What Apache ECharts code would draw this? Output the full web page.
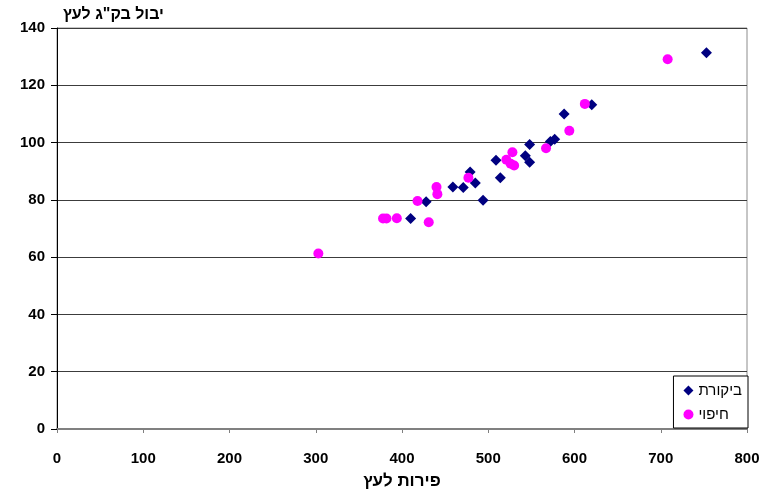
<!DOCTYPE html>
<html><head><meta charset="utf-8">
<script src="https://cdn.jsdelivr.net/npm/echarts@6/dist/echarts.min.js"></script>
<style>html,body{margin:0;padding:0;background:#fff}#c{width:766px;height:495px}</style>
</head><body><div id="c"></div>
<script>
const seriesNames = ['ביקורת', 'חיפוי'];
const controlX = [410, 428, 459, 471, 479, 485, 494, 509, 514, 543, 548, 548, 572, 577, 588, 620, 753];
const controlY = [73.5, 79.3, 84.5, 84.3, 89.7, 85.9, 79.9, 93.8, 87.7, 95.4, 99.3, 93.1, 100.4, 101.2, 110, 113.2, 131.4];
const mulchX = [303, 378, 382, 394, 418, 431, 440, 441, 477, 521, 526, 528, 530, 567, 594, 612, 708];
const mulchY = [61.3, 73.5, 73.5, 73.6, 79.6, 72.2, 84.5, 82, 87.7, 94, 92.6, 96.6, 92, 98, 104.1, 113.5, 129.1];
const xTitle = 'פירות לעץ';
const yTitle = 'יבול בק"ג לעץ';

const zip = (a, b) => a.map((v, i) => [v, b[i]]);
const font = 'Arial, "Liberation Sans", sans-serif';
const chart = echarts.init(document.getElementById('c'), null, {renderer: 'canvas'});
chart.setOption({
  animation: false,
  backgroundColor: '#fff',
  grid: {left: 57, right: 19, top: 28, bottom: 65, show: true, borderColor: '#8c8c8c', borderWidth: 1},
  xAxis: {
    type: 'value', min: 0, max: 800, interval: 100,
    name: xTitle, nameLocation: 'middle', nameGap: 44,
    nameTextStyle: {fontFamily: font, fontWeight: 'bold', fontSize: 17, color: '#000'},
    axisLine: {show: true, lineStyle: {color: '#808080', width: 2}},
    axisTick: {show: true, length: 4, lineStyle: {color: '#808080'}},
    axisLabel: {margin: 22, fontFamily: font, fontWeight: 'bold', fontSize: 15, color: '#000'},
    splitLine: {show: false}
  },
  yAxis: {
    type: 'value', min: 0, max: 140, interval: 20,
    name: yTitle, nameLocation: 'end', nameGap: 5,
    nameTextStyle: {fontFamily: font, fontWeight: 'bold', fontSize: 16, color: '#000', align: 'left', padding: [0, 0, 0, 6]},
    axisLine: {show: true, lineStyle: {color: '#000', width: 1}},
    axisTick: {show: true, length: 6, inside: false, lineStyle: {color: '#000'}},
    axisLabel: {margin: 12, fontFamily: font, fontWeight: 'bold', fontSize: 15, color: '#000'},
    splitLine: {show: true, lineStyle: {color: '#3c3c3c', width: 1}}
  },
  legend: {
    orient: 'vertical', right: 18, bottom: 67,
    backgroundColor: '#fff', borderColor: '#000', borderWidth: 1,
    padding: [7, 6, 6, 10], itemGap: 9, itemWidth: 10, itemHeight: 10,
    textStyle: {fontFamily: font, fontSize: 15, color: '#000'},
    data: [{name: seriesNames[0], icon: 'diamond'}, {name: seriesNames[1], icon: 'circle'}]
  },
  series: [
    {name: seriesNames[0], type: 'scatter', symbol: 'diamond', symbolSize: 11,
     itemStyle: {color: '#000080', opacity: 1}, data: zip(controlX, controlY)},
    {name: seriesNames[1], type: 'scatter', symbol: 'circle', symbolSize: 10,
     itemStyle: {color: '#ff00ff', opacity: 1}, data: zip(mulchX, mulchY)}
  ]
});
</script></body></html>
